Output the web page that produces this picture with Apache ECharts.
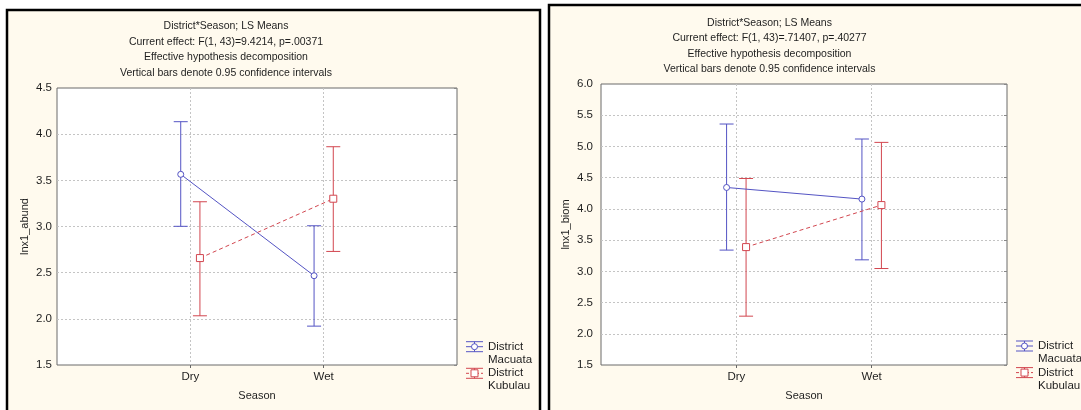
<!DOCTYPE html>
<html>
<head>
<meta charset="utf-8">
<script src="https://cdn.jsdelivr.net/npm/echarts@6/dist/echarts.min.js"></script>
<style>
  html, body { margin: 0; padding: 0; background: #ffffff; }
  #chart { width: 1081px; height: 410px; }
</style>
</head>
<body>
<div id="chart"></div>
<script>
// Season categories (placed at x = 1 and x = 2 on a 0..3 value axis)
const SEASONS = ['Dry', 'Wet'];

// lnx1_abund: LS means with 0.95 confidence limits
const ABUND_MACUATA_MEAN = [3.565, 2.467];
const ABUND_MACUATA_LOW  = [3.002, 1.921];
const ABUND_MACUATA_HIGH = [4.135, 3.008];
const ABUND_KUBULAU_MEAN = [2.658, 3.301];
const ABUND_KUBULAU_LOW  = [2.033, 2.730];
const ABUND_KUBULAU_HIGH = [3.268, 3.864];

// lnx1_biom: LS means with 0.95 confidence limits
const BIOM_MACUATA_MEAN = [4.343, 4.157];
const BIOM_MACUATA_LOW  = [3.340, 3.184];
const BIOM_MACUATA_HIGH = [5.359, 5.119];
const BIOM_KUBULAU_MEAN = [3.388, 4.061];
const BIOM_KUBULAU_LOW  = [2.282, 3.045];
const BIOM_KUBULAU_HIGH = [4.487, 5.065];

// Axis ranges and tick step
const ABUND_Y = [1.5, 4.5];
const BIOM_Y = [1.5, 6.0];
const Y_STEP = 0.5;

const TITLES = {
  abund: 'District*Season; LS Means\nCurrent effect: F(1, 43)=9.4214, p=.00371\nEffective hypothesis decomposition\nVertical bars denote 0.95 confidence intervals',
  biom: 'District*Season; LS Means\nCurrent effect: F(1, 43)=.71407, p=.40277\nEffective hypothesis decomposition\nVertical bars denote 0.95 confidence intervals'
};
const SERIES_NAMES = ['District\nMacuata', 'District\nKubulau'];

const BLUE = '#5454c4';
const RED = '#d2464f';
const FONT = '"Liberation Sans", Arial, sans-serif';
const TEXT = '#1e1e1e';
const DODGE = 0.072; // horizontal shift separating the two districts

const chart = echarts.init(document.getElementById('chart'), null, { renderer: 'canvas' });

function meanPoints(means, shift) {
  return means.map((v, i) => [i + 1 + shift, v]);
}
function barPoints(lows, highs, shift) {
  return lows.map((lo, i) => [i + 1 + shift, lo, highs[i]]);
}

function errorBars(name, idx, lows, highs, shift, color) {
  return {
    type: 'custom',
    name: name,
    xAxisIndex: idx,
    yAxisIndex: idx * 2,
    z: 2,
    silent: true,
    data: barPoints(lows, highs, shift),
    encode: { x: 0, y: [1, 2] },
    renderItem: function (params, api) {
      const lo = api.coord([api.value(0), api.value(1)]);
      const hi = api.coord([api.value(0), api.value(2)]);
      const cap = 7;
      const st = { stroke: color, lineWidth: 1 };
      return {
        type: 'group',
        children: [
          { type: 'line', shape: { x1: lo[0], y1: lo[1], x2: hi[0], y2: hi[1] }, style: st },
          { type: 'line', shape: { x1: hi[0] - cap, y1: hi[1], x2: hi[0] + cap, y2: hi[1] }, style: st },
          { type: 'line', shape: { x1: lo[0] - cap, y1: lo[1], x2: lo[0] + cap, y2: lo[1] }, style: st }
        ]
      };
    }
  };
}

function meanLine(name, idx, means, shift, color, symbol, dashed) {
  return {
    type: 'line',
    name: name,
    xAxisIndex: idx,
    yAxisIndex: idx * 2,
    z: 3,
    silent: true,
    data: meanPoints(means, shift),
    symbol: symbol,
    symbolSize: symbol === 'rect' ? 7 : 6,
    showSymbol: true,
    itemStyle: { color: '#ffffff', borderColor: color, borderWidth: 1 },
    lineStyle: { color: color, width: 1, type: dashed ? [4, 3] : 'solid' },
    animation: false
  };
}

function xAxis(idx) {
  return {
    type: 'value', gridIndex: idx, min: 0, max: 3, interval: 1,
    name: 'Season', nameLocation: 'middle', nameGap: 25,
    nameTextStyle: { fontFamily: FONT, fontSize: 11, color: TEXT },
    axisLine: { show: false },
    axisTick: { show: true, length: 3, lineStyle: { color: '#666' } },
    axisLabel: {
      fontFamily: FONT, fontSize: 11.5, color: TEXT, margin: 6,
      showMinLabel: false, showMaxLabel: false,
      formatter: v => SEASONS[v - 1] || ''
    },
    splitLine: {
      show: true, showMinLine: false, showMaxLine: false,
      lineStyle: { color: '#c4c4c4', type: [2, 2], width: 1 }
    }
  };
}

function yAxes(idx, range, name, labelMargin, nameGap) {
  return [
    {
      type: 'value', gridIndex: idx, min: range[0], max: range[1], interval: Y_STEP,
      name: name, nameLocation: 'middle', nameGap: nameGap,
      nameTextStyle: { fontFamily: FONT, fontSize: 11, color: TEXT },
      axisLine: { show: false },
      axisTick: { show: false },
      axisLabel: {
        fontFamily: FONT, fontSize: 11.5, color: TEXT, margin: labelMargin,
        formatter: v => v.toFixed(1)
      },
      splitLine: {
        show: true, showMinLine: false, showMaxLine: false,
        lineStyle: { color: '#c4c4c4', type: [2, 2], width: 1 }
      }
    },
    {
      type: 'value', gridIndex: idx, position: 'right', min: range[0], max: range[1], interval: Y_STEP,
      axisLine: { show: false },
      axisTick: { show: true, inside: true, length: 3, lineStyle: { color: '#888' } },
      axisLabel: { show: false },
      splitLine: { show: false }
    }
  ];
}

// Legend glyph: error-bar symbol with its marker, next to a two-line label
function legendItem(x, y, color, symbol, dashed, label) {
  const st = { stroke: color, lineWidth: 1, fill: null };
  const w = 17, h = 5, cx = x + w / 2;
  const marker = symbol === 'rect'
    ? { type: 'rect', shape: { x: cx - 3.5, y: y - 3.5, width: 7, height: 7 }, style: { stroke: color, fill: '#fff', lineWidth: 1 } }
    : { type: 'circle', shape: { cx: cx, cy: y, r: 3 }, style: { stroke: color, fill: '#fff', lineWidth: 1 } };
  return [
    { type: 'line', shape: { x1: x, y1: y - h, x2: x + w, y2: y - h }, style: st },
    { type: 'line', shape: { x1: x, y1: y + h, x2: x + w, y2: y + h }, style: st },
    { type: 'line', shape: { x1: cx, y1: y - h, x2: cx, y2: y + h }, style: st },
    { type: 'line', shape: { x1: x, y1: y, x2: x + w, y2: y }, style: Object.assign({}, st, { lineDash: dashed ? [3, 2] : null }) },
    marker,
    {
      type: 'text', x: x + 22, y: y - 6.5,
      style: { text: label, font: '11.5px ' + FONT, fill: TEXT, lineHeight: 13, textVerticalAlign: 'top' }
    }
  ];
}

const graphics = [
  // panel frames
  { type: 'rect', z: -10, shape: { x: 7, y: 10, width: 533, height: 420 },
    style: { fill: '#fffaee', stroke: '#000', lineWidth: 2.5 } },
  { type: 'rect', z: -10, shape: { x: 549, y: 5, width: 600, height: 450 },
    style: { fill: '#fffaee', stroke: '#000', lineWidth: 2.5 } }
];
[
  [466, 346.7, 373.3],
  [1016, 346.0, 372.6]
].forEach(([lx, y1, y2]) => {
  legendItem(lx, y1, BLUE, 'circle', false, SERIES_NAMES[0]).forEach(g => graphics.push(Object.assign({ z: 10 }, g)));
  legendItem(lx, y2, RED, 'rect', true, SERIES_NAMES[1]).forEach(g => graphics.push(Object.assign({ z: 10 }, g)));
});

const option = {
  animation: false,
  backgroundColor: '#ffffff',
  title: [
    { text: TITLES.abund, left: 221, top: 13.5, textAlign: 'center',
      textStyle: { fontFamily: FONT, fontSize: 10.5, fontWeight: 'normal', color: TEXT, lineHeight: 15.5 } },
    { text: TITLES.biom, left: 764.5, top: 10, textAlign: 'center',
      textStyle: { fontFamily: FONT, fontSize: 10.5, fontWeight: 'normal', color: TEXT, lineHeight: 15.5 } }
  ],
  grid: [
    { left: 57, top: 88, width: 400, height: 277, show: true, backgroundColor: '#ffffff', borderColor: '#6a6a6a', borderWidth: 1 },
    { left: 601, top: 84, width: 406, height: 281, show: true, backgroundColor: '#ffffff', borderColor: '#6a6a6a', borderWidth: 1 }
  ],
  xAxis: [xAxis(0), xAxis(1)],
  yAxis: yAxes(0, ABUND_Y, 'lnx1_abund', 5, 27).concat(yAxes(1, BIOM_Y, 'lnx1_biom', 8, 30)),
  graphic: graphics,
  series: [
    errorBars('Macuata', 0, ABUND_MACUATA_LOW, ABUND_MACUATA_HIGH, -DODGE, BLUE),
    errorBars('Kubulau', 0, ABUND_KUBULAU_LOW, ABUND_KUBULAU_HIGH, DODGE, RED),
    meanLine('Macuata', 0, ABUND_MACUATA_MEAN, -DODGE, BLUE, 'circle', false),
    meanLine('Kubulau', 0, ABUND_KUBULAU_MEAN, DODGE, RED, 'rect', true),
    errorBars('Macuata', 1, BIOM_MACUATA_LOW, BIOM_MACUATA_HIGH, -DODGE, BLUE),
    errorBars('Kubulau', 1, BIOM_KUBULAU_LOW, BIOM_KUBULAU_HIGH, DODGE, RED),
    meanLine('Macuata', 1, BIOM_MACUATA_MEAN, -DODGE, BLUE, 'circle', false),
    meanLine('Kubulau', 1, BIOM_KUBULAU_MEAN, DODGE, RED, 'rect', true)
  ]
};

chart.setOption(option);
</script>
</body>
</html>
